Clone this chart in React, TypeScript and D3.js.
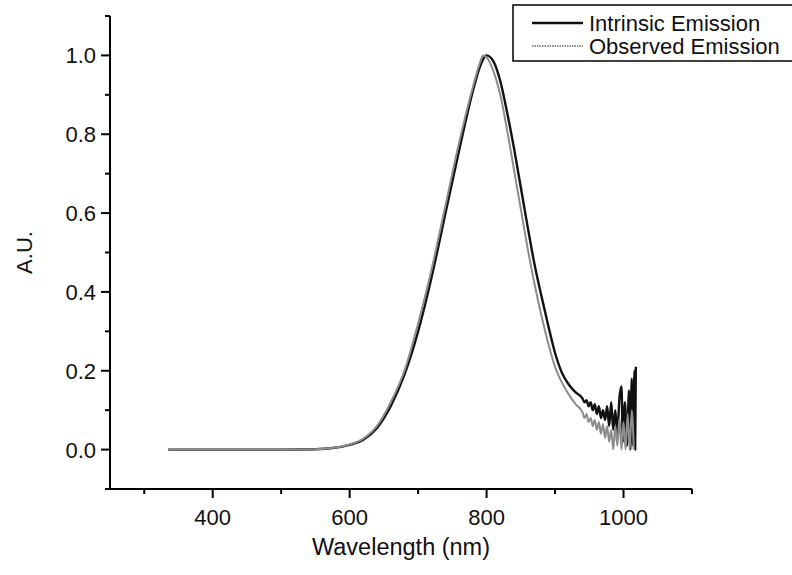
import React from "react";
import * as d3 from "d3";

const intrinsicWl = [335, 400, 450, 500, 550, 575, 600, 620, 640, 660, 680, 700, 720, 740, 760, 780, 790, 800, 810, 820, 830, 840, 850, 860, 870, 880, 890, 900, 910, 920, 930, 940, 943, 946, 949, 952, 955, 958, 961, 964, 967, 970, 973, 976, 979, 982, 985, 988, 991, 994, 997, 999, 1002, 1005, 1008, 1010, 1012, 1014, 1016, 1017, 1018];
const intrinsicVal = [0, 0, 0, 0, 0.001, 0.004, 0.012, 0.025, 0.055, 0.11, 0.19, 0.3, 0.44, 0.6, 0.76, 0.91, 0.97, 1.0, 0.985, 0.935, 0.855, 0.765, 0.665, 0.565, 0.47, 0.39, 0.315, 0.245, 0.195, 0.165, 0.145, 0.13, 0.12, 0.125, 0.11, 0.12, 0.1, 0.115, 0.09, 0.11, 0.08, 0.1, 0.075, 0.11, 0.06, 0.12, 0.05, 0.1, 0.04, 0.13, 0.16, 0.02, 0.12, 0.01, 0.15, 0.0, 0.18, 0.01, 0.2, 0.0, 0.21];

const observedWl = [335, 400, 450, 500, 550, 580, 600, 620, 640, 660, 680, 700, 720, 740, 760, 780, 790, 795, 800, 810, 820, 830, 840, 850, 860, 870, 880, 890, 900, 910, 920, 930, 940, 943, 946, 949, 952, 955, 958, 961, 964, 967, 970, 973, 976, 979, 982, 985, 988, 991, 994, 997, 1000, 1003, 1006, 1009, 1012, 1015];
const observedVal = [0, 0, 0, 0, 0.001, 0.005, 0.013, 0.028, 0.06, 0.12, 0.2, 0.32, 0.46, 0.62, 0.78, 0.92, 0.98, 1.0, 0.995, 0.96, 0.9, 0.81, 0.71, 0.61, 0.51, 0.42, 0.34, 0.27, 0.21, 0.17, 0.14, 0.115, 0.095, 0.08, 0.09, 0.07, 0.08, 0.06, 0.075, 0.05, 0.07, 0.04, 0.065, 0.03, 0.06, 0.02, 0.05, 0.0, 0.06, 0.01, 0.08, 0.0, 0.07, 0.0, 0.09, 0.0, 0.1, 0.0];

const xMajorTicks = [400, 600, 800, 1000];
const xMinorTicks = [300, 500, 700, 900, 1100];
const yMajorTicks = [0, 0.2, 0.4, 0.6, 0.8, 1.0];
const yMinorTicks = [-0.1, 0.1, 0.3, 0.5, 0.7, 0.9, 1.1];

const seriesNames = ["Intrinsic Emission", "Observed Emission"];

export default function App() {
  const W = 792, H = 575;
  const left = 110, right = 692, top = 16, bottom = 489;
  const x = d3.scaleLinear().domain([250, 1100]).range([left, right]);
  const y = d3.scaleLinear().domain([-0.1, 1.1]).range([bottom, top]);
  const line = d3
    .line<[number, number]>()
    .x((d) => x(d[0]))
    .y((d) => y(d[1]))
    .curve(d3.curveMonotoneX);
  const intr = intrinsicWl.map((w, i) => [w, intrinsicVal[i]] as [number, number]);
  const obs = observedWl.map((w, i) => [w, observedVal[i]] as [number, number]);
  const font = "'Liberation Sans', Arial, sans-serif";
  return (
    <svg width={W} height={H} style={{ position: "absolute", left: 0, top: 0, background: "#fff" }} fontFamily={font}>
      <rect width={W} height={H} fill="#fff" />
      <path d={line(intr) || ""} fill="none" stroke="#111" strokeWidth={2.4} strokeLinejoin="round" />
      <path d={line(obs) || ""} fill="none" stroke="#8c8c8c" strokeWidth={2} strokeLinejoin="round" />
      {/* axes */}
      <line x1={left} x2={left} y1={top} y2={bottom + 1} stroke="#000" strokeWidth={2} />
      <line x1={left - 1} x2={right} y1={bottom} y2={bottom} stroke="#000" strokeWidth={2} />
      {xMajorTicks.map((t) => (
        <g key={"xM" + t}>
          <line x1={x(t)} x2={x(t)} y1={bottom} y2={bottom + 9} stroke="#000" strokeWidth={2} />
          <text x={x(t)} y={525} fontSize={22} textAnchor="middle" fill="#111">
            {t}
          </text>
        </g>
      ))}
      {xMinorTicks.map((t) => (
        <line key={"xm" + t} x1={x(t)} x2={x(t)} y1={bottom} y2={bottom + 5} stroke="#000" strokeWidth={2} />
      ))}
      {yMajorTicks.map((t) => (
        <g key={"yM" + t}>
          <line x1={left - 9} x2={left} y1={y(t)} y2={y(t)} stroke="#000" strokeWidth={2} />
          <text x={96} y={y(t) + 8} fontSize={22} textAnchor="end" fill="#111">
            {t.toFixed(1)}
          </text>
        </g>
      ))}
      {yMinorTicks.map((t) => (
        <line key={"ym" + t} x1={left - 5} x2={left} y1={y(t)} y2={y(t)} stroke="#000" strokeWidth={2} />
      ))}
      <text x={(left + right) / 2} y={555} fontSize={23.5} textAnchor="middle" fill="#111">
        Wavelength (nm)
      </text>
      <text transform={`translate(32,${(top + bottom) / 2}) rotate(-90)`} fontSize={22} textAnchor="middle" fill="#111">
        A.U.
      </text>
      {/* legend */}
      <rect x={513} y={5} width={300} height={56} fill="#fff" stroke="#000" strokeWidth={1.5} />
      <line x1={532} x2={583} y1={23} y2={23} stroke="#111" strokeWidth={2.4} />
      <line x1={532} x2={583} y1={46} y2={46} stroke="#8c8c8c" strokeWidth={2} strokeDasharray="1.5,1" />
      <text x={589} y={31} fontSize={22} fill="#111">
        {seriesNames[0]}
      </text>
      <text x={589} y={54} fontSize={22} fill="#111">
        {seriesNames[1]}
      </text>
    </svg>
  );
}
